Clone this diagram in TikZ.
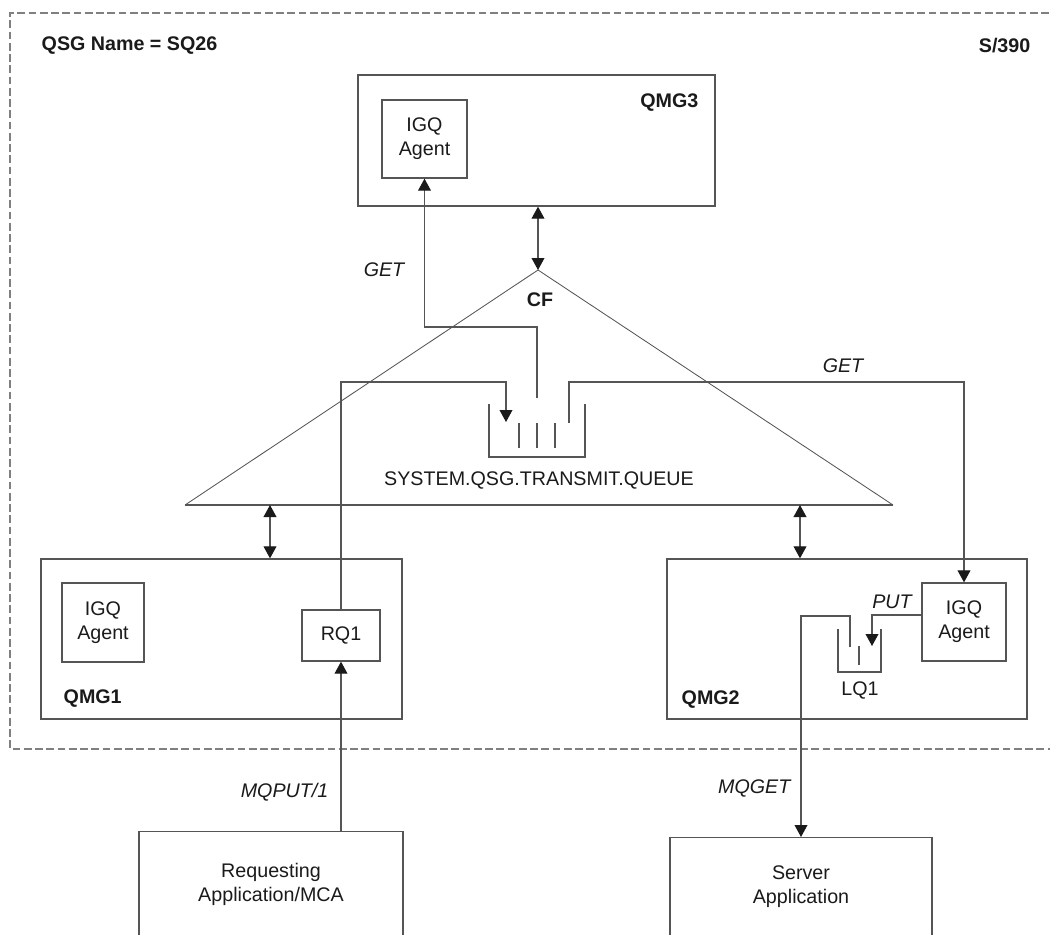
\documentclass[tikz,border=0pt]{standalone}
\usepackage{fontspec}
\setmainfont{Liberation Sans}
\usetikzlibrary{arrows.meta,positioning}
\definecolor{igqInk}{HTML}{1A1A1A}
\definecolor{igqLine}{HTML}{555555}
\definecolor{igqDash}{HTML}{808080}
\tikzset{
    >={Triangle[length=3mm,width=3.2mm,color=igqInk]},
    box/.style={draw=igqLine, line width=0.9pt, align=center, inner sep=0pt, text=igqInk},
    appbox/.style={draw=igqLine, line width=0.9pt, anchor=north, inner sep=0pt},
    tag/.style={font=\fontsize{14}{17}\selectfont\bfseries, text=igqInk, inner sep=1pt},
    verb/.style={font=\fontsize{14}{17}\selectfont\itshape, text=igqInk, inner sep=1pt},
    lbl/.style={text=igqInk, align=center, inner sep=1pt},
    qline/.style={draw=igqLine, line width=0.9pt},
    conn/.style={draw=igqLine, line width=0.8pt},
    arrow/.style={->, draw=igqLine, line width=0.8pt},
    dblarrow/.style={<->, draw=igqLine, line width=0.8pt},
    sysframe/.style={draw=igqDash, line width=1.1pt, dash pattern=on 5.5pt off 2.5pt}
}
\begin{document}
\begin{tikzpicture}[x=0.025cm, y=-0.025cm, font=\fontsize{14}{17}\selectfont]
\useasboundingbox (0,0) rectangle (1050,934);
\draw[sysframe] (1060,13) -- (10,13) -- (10,749) -- (1060,749);
\node[tag, anchor=west] (qsgname) at (40,46) {QSG Name = SQ26};
\node[tag, anchor=east] (sysname) at (1032,46) {S/390};

\node[box, minimum width=8.925cm, minimum height=3.275cm] (qmg3) at (536.5,140.5) {};
\node[tag, anchor=east] (qmg3lbl) at (700,103) {QMG3};
\node[box, minimum width=2.125cm, minimum height=1.95cm] (agent3) at (424.5,139) {IGQ\\Agent};

\coordinate (cftop) at (538,270);
\coordinate (cfleft) at (185,505);
\coordinate (cfright) at (893,505);
\draw[qline, line width=0.6pt] (cfleft) -- (cftop) -- (cfright);
\draw[qline, line width=1.3pt] (cfleft) -- (cfright);
\node[tag] (cflbl) at (540,300) {CF};
\draw[dblarrow] (qmg3.south -| cftop) -- (cftop);

\draw[qline] (489,404) -- (489,457) -- (585,457) -- (585,404);
\draw[qline, line width=1.3pt] (489,457) -- (585,457);
\foreach \x in {519,537,555}
    \draw[qline] (\x,423) -- (\x,448);
\node[lbl] (xmitq) at (539,480) {SYSTEM.QSG.TRANSMIT.QUEUE};
\coordinate (xqmid) at (537,398);
\coordinate (xqin) at (506,422);
\coordinate (xqout) at (569,423);

\node[box, minimum width=9.025cm, minimum height=4cm] (qmg1) at (221.5,639) {};
\node[tag, anchor=west] (qmg1lbl) at (62,699) {QMG1};
\node[box, minimum width=2.05cm, minimum height=1.975cm] (agent1) at (103,622.5) {IGQ\\Agent};
\node[box, minimum width=1.95cm, minimum height=1.275cm] (rq1) at (341,635.5) {RQ1};

\node[box, minimum width=9cm, minimum height=4cm] (qmg2) at (847,639) {};
\node[tag, anchor=west] (qmg2lbl) at (680,700) {QMG2};
\node[box, minimum width=2.1cm, minimum height=1.95cm] (agent2) at (964,622) {IGQ\\Agent};
\draw[qline] (838,629) -- (838,672) -- (881,672) -- (881,629);
\draw[qline] (859,646) -- (859,665);
\node[lbl] (lq1) at (860,690) {LQ1};
\coordinate (lqin) at (872,646);
\coordinate (lqout) at (850,647);
\coordinate (putfrom) at (922,615);

\coordinate (linkone) at (270,505);
\coordinate (linktwo) at (800,505);
\draw[dblarrow] (linkone) -- (linkone |- qmg1.north);
\draw[dblarrow] (linktwo) -- (linktwo |- qmg2.north);

\node[appbox, minimum width=6.6cm, minimum height=5cm] (reqapp) at (271,831) {};
\node[lbl] (reqlbl) at (271,884) {Requesting\\Application/MCA};
\node[appbox, minimum width=6.55cm, minimum height=5cm] (srvapp) at (801,837) {};
\node[lbl] (srvlbl) at (801,887) {Server\\Application};

\draw[arrow] (xqmid) -- (xqmid |- 0,327) -| (agent3.south);
\node[verb] (getone) at (384,270) {GET};
\draw[arrow] (rq1.north) |- (xqin |- 0,382) -- (xqin);
\draw[arrow] (xqout) |- (agent2.north |- 0,382) -- (agent2.north);
\node[verb] (gettwo) at (843,366) {GET};
\draw[arrow] (putfrom) -| (lqin);
\node[verb] (putlbl) at (892,602) {PUT};
\draw[arrow] (lqout) |- (srvapp.north |- 0,616) -- (srvapp.north);
\node[verb, anchor=east] (mqget) at (792,788) {MQGET};
\draw[arrow] (rq1.south |- reqapp.north) -- (rq1.south);
\node[verb, anchor=east] (mqput) at (330,792) {MQPUT/1};
\end{tikzpicture}
\end{document}
